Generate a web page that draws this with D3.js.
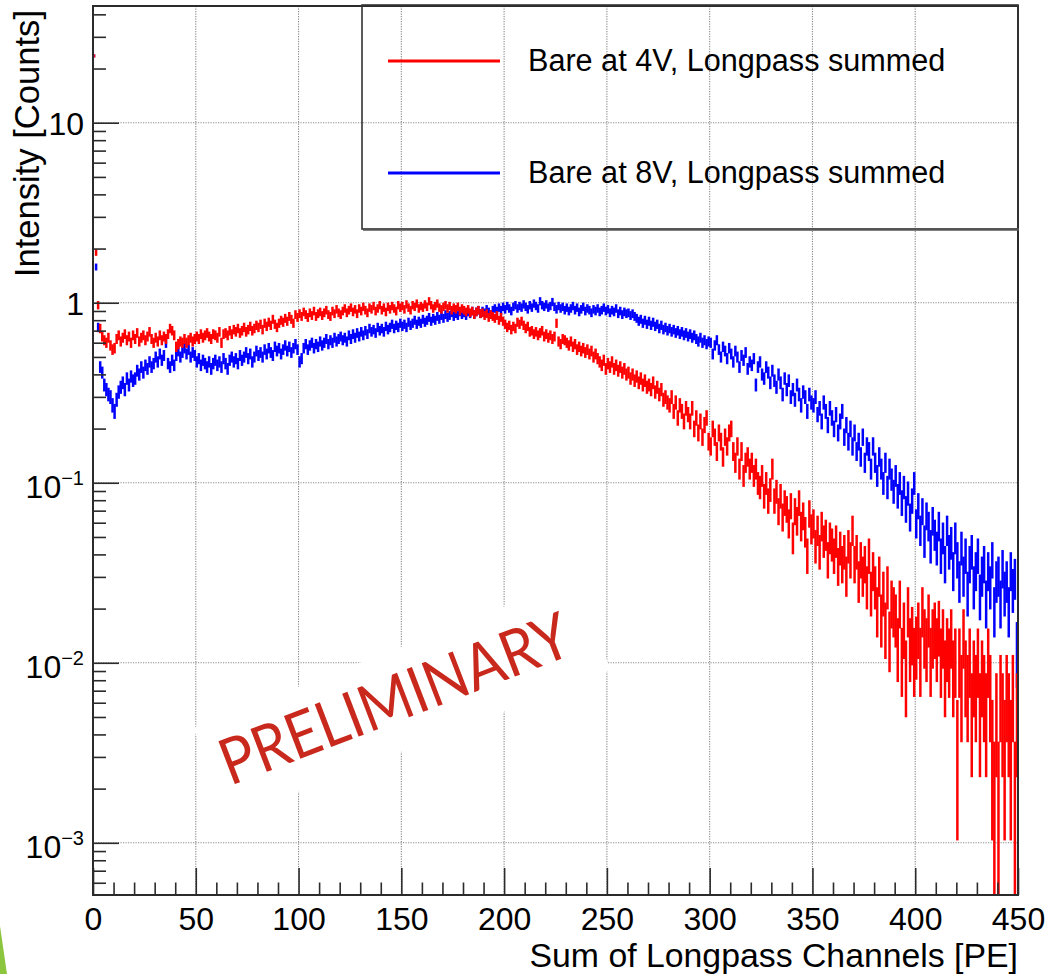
<!DOCTYPE html>
<html><head><meta charset="utf-8">
<script src="https://cdn.jsdelivr.net/npm/d3@7"></script>
<style>
body{margin:0;background:#fff;}
svg{display:block;font-family:"Liberation Sans",Arial,Helvetica,sans-serif;}
</style>
</head><body>
<svg id="chart" width="1051" height="974"></svg>
<script>
// ---------------- data ----------------
const xTickValues = [0, 50, 100, 150, 200, 250, 300, 350, 400, 450];
const yDecades = [1e-3, 1e-2, 1e-1, 1, 10];
const yDecadeExponents = [-3, -2, -1, 0, 1];
const seriesNames = ["Bare at 4V, Longpass summed", "Bare at 8V, Longpass summed"];
const seriesColors = ["#ff0000", "#0000ff"];
const entriesPerUnit = 550; // Poisson scale for error bars
const binWidth = 1;         // PE per bin

// Bare at 4V (red), one value per 1-PE bin, bins 0..449
const red4V = [
23.5,1.9,0.97,0.72,0.65,0.62,0.6,0.64,0.58,0.55,
0.56,0.63,0.66,0.61,0.64,0.67,0.62,0.65,0.6,0.66,
0.63,0.68,0.61,0.64,0.66,0.62,0.65,0.69,0.63,0.6,
0.64,0.61,0.66,0.62,0.65,0.63,0.67,0.72,0.7,0.66,
0.57,0.59,0.61,0.6,0.63,0.6,0.62,0.64,0.61,0.63,
0.65,0.63,0.67,0.64,0.66,0.68,0.65,0.63,0.67,0.66,
0.64,0.69,0.6,0.67,0.68,0.66,0.7,0.67,0.71,0.69,
0.72,0.68,0.7,0.73,0.69,0.71,0.74,0.7,0.72,0.75,
0.73,0.76,0.71,0.77,0.74,0.78,0.75,0.81,0.76,0.73,
0.77,0.8,0.78,0.82,0.79,0.84,0.81,0.77,0.86,0.83,
0.87,0.84,0.89,0.86,0.83,0.88,0.85,0.9,0.84,0.87,
0.89,0.85,0.88,0.91,0.86,0.84,0.9,0.87,0.92,0.88,
0.86,0.9,0.93,0.88,0.91,0.94,0.89,0.92,0.87,0.93,
0.9,0.95,0.91,0.88,0.94,0.92,0.96,0.9,0.93,0.97,
0.91,0.94,0.89,0.95,0.92,0.96,0.93,0.9,0.97,0.94,
0.96,0.92,0.98,0.94,0.91,0.97,0.95,0.99,0.93,0.96,
0.94,0.98,0.95,1.02,0.97,0.93,0.96,0.99,0.94,0.92,
0.95,0.97,0.93,0.96,0.91,0.94,0.92,0.95,0.9,0.93,
0.91,0.89,0.92,0.88,0.9,0.86,0.89,0.91,0.87,0.88,
0.85,0.87,0.83,0.86,0.84,0.82,0.85,0.8,0.83,0.79,
0.76,0.73,0.75,0.71,0.74,0.72,0.78,0.76,0.79,0.75,
0.72,0.74,0.69,0.7,0.67,0.69,0.66,0.68,0.7,0.65,
0.67,0.64,0.66,0.63,0.65,0.77,0.61,0.59,0.63,0.62,
0.6,0.58,0.61,0.57,0.59,0.55,0.57,0.54,0.56,0.53,
0.55,0.52,0.54,0.5,0.52,0.49,0.47,0.45,0.48,0.43,
0.46,0.44,0.47,0.43,0.45,0.42,0.44,0.41,0.43,0.4,
0.41,0.38,0.4,0.37,0.39,0.36,0.38,0.35,0.37,0.34,
0.35,0.33,0.36,0.32,0.34,0.31,0.33,0.29,0.3,0.28,
0.27,0.3,0.25,0.28,0.23,0.27,0.25,0.22,0.26,0.24,
0.22,0.26,0.2,0.23,0.19,0.22,0.18,0.21,0.23,0.17,
0.16,0.2,0.18,0.15,0.19,0.17,0.14,0.18,0.16,0.19,
0.2,0.15,0.13,0.16,0.12,0.15,0.11,0.13,0.14,0.12,
0.13,0.11,0.12,0.1,0.095,0.11,0.085,0.1,0.08,0.092,
0.12,0.08,0.09,0.07,0.085,0.065,0.078,0.072,0.06,0.075,
0.05,0.07,0.062,0.078,0.058,0.066,0.054,0.04,0.068,0.056,
0.06,0.045,0.055,0.042,0.058,0.048,0.052,0.038,0.05,0.046,
0.04,0.048,0.035,0.044,0.036,0.042,0.031,0.045,0.038,0.055,
0.036,0.042,0.029,0.038,0.031,0.036,0.027,0.04,0.025,0.033,
0.027,0.02,0.031,0.018,0.025,0.016,0.027,0.014,0.022,0.02,
0.018,0.0127,0.022,0.011,0.016,0.0091,0.02,0.0127,0.015,0.011,
0.013,0.016,0.011,0.02,0.0145,0.0127,0.018,0.011,0.0145,0.016,
0.0127,0.0164,0.0109,0.0145,0.0091,0.0127,0.0109,0.0145,0.0091,0.0109,
0.0036,0.0109,0.0073,0.0145,0.0091,0.0073,0.0109,0.0055,0.0091,0.0073,
0.0109,0.0055,0.0091,0.0073,0.0055,0.0109,0.0073,0.0036,0.0018,0.0055,
0.0018,0.0073,0.0055,0.0036,0.0073,0.0055,0.0036,0.0073,0.0018,0.0055
];

// Bare at 8V (blue), bins 0..449
const blue8V = [
23.5,1.58,0.73,0.44,0.41,0.35,0.33,0.31,0.3,0.27,
0.25,0.29,0.32,0.34,0.36,0.33,0.38,0.35,0.39,0.37,
0.38,0.42,0.4,0.44,0.41,0.45,0.43,0.47,0.44,0.46,
0.5,0.47,0.52,0.48,0.51,0.6,0.46,0.44,0.48,0.45,
0.51,0.54,0.5,0.53,0.56,0.52,0.55,0.5,0.53,0.51,
0.47,0.49,0.45,0.48,0.46,0.44,0.47,0.43,0.46,0.48,
0.45,0.47,0.44,0.49,0.46,0.43,0.48,0.5,0.47,0.49,
0.46,0.51,0.48,0.5,0.53,0.49,0.52,0.47,0.5,0.54,
0.51,0.53,0.5,0.55,0.52,0.56,0.53,0.51,0.57,0.54,
0.56,0.52,0.55,0.58,0.54,0.57,0.53,0.56,0.59,0.55,
0.47,0.49,0.56,0.59,0.55,0.58,0.6,0.56,0.59,0.57,
0.61,0.58,0.6,0.63,0.59,0.62,0.6,0.64,0.61,0.63,
0.65,0.62,0.64,0.61,0.66,0.63,0.67,0.64,0.68,0.65,
0.69,0.66,0.7,0.67,0.72,0.69,0.71,0.68,0.73,0.7,
0.72,0.69,0.74,0.71,0.73,0.76,0.72,0.75,0.73,0.77,
0.74,0.76,0.73,0.78,0.75,0.77,0.8,0.76,0.79,0.77,
0.81,0.78,0.8,0.83,0.79,0.82,0.8,0.84,0.81,0.85,
0.82,0.86,0.83,0.85,0.88,0.84,0.87,0.85,0.89,0.86,
0.88,0.85,0.89,0.87,0.9,0.86,0.89,0.91,0.87,0.9,
0.88,0.92,0.89,0.86,0.91,0.93,0.9,0.94,0.91,0.95,
0.92,0.96,0.93,0.9,0.95,0.97,0.93,0.96,0.94,0.98,
0.95,0.92,0.97,0.94,0.99,0.96,0.93,1.02,0.97,0.95,
0.98,0.94,0.96,1.01,0.95,0.92,0.96,0.93,0.95,0.91,
0.94,0.9,0.93,0.96,0.91,0.94,0.89,0.92,0.95,0.9,
0.93,0.91,0.88,0.92,0.9,0.93,0.89,0.91,0.94,0.9,
0.92,0.88,0.91,0.89,0.93,0.87,0.9,0.86,0.89,0.87,
0.88,0.85,0.87,0.84,0.82,0.79,0.81,0.77,0.8,0.76,
0.79,0.75,0.78,0.74,0.76,0.72,0.75,0.71,0.73,0.7,
0.72,0.69,0.71,0.68,0.7,0.67,0.69,0.66,0.68,0.65,
0.67,0.64,0.66,0.63,0.61,0.64,0.6,0.62,0.59,0.61,
0.6,0.52,0.58,0.62,0.55,0.5,0.57,0.54,0.49,0.56,
0.52,0.47,0.54,0.5,0.44,0.51,0.48,0.53,0.43,0.47,
0.45,0.49,0.35,0.44,0.47,0.4,0.38,0.44,0.41,0.36,
0.42,0.37,0.34,0.4,0.36,0.31,0.38,0.33,0.37,0.3,
0.33,0.29,0.35,0.31,0.27,0.32,0.3,0.25,0.31,0.28,
0.27,0.3,0.24,0.26,0.22,0.28,0.25,0.21,0.26,0.23,
0.2,0.24,0.19,0.22,0.25,0.18,0.21,0.17,0.2,0.16,
0.19,0.15,0.17,0.14,0.18,0.13,0.16,0.15,0.12,0.16,
0.13,0.11,0.14,0.12,0.1,0.13,0.095,0.12,0.105,0.09,
0.11,0.085,0.1,0.078,0.095,0.072,0.088,0.065,0.08,0.1,
0.06,0.075,0.055,0.07,0.048,0.066,0.058,0.045,0.062,0.052,
0.044,0.058,0.04,0.05,0.036,0.055,0.042,0.047,0.033,0.05,
0.038,0.029,0.044,0.031,0.04,0.025,0.036,0.042,0.027,0.033,
0.04,0.024,0.031,0.036,0.022,0.033,0.027,0.038,0.02,0.029,
0.031,0.022,0.034,0.025,0.029,0.02,0.033,0.026,0.03,0.012
];

// ---------------- layout ----------------
const svg = d3.select("#chart");
const plot = {left: 93, right: 1018, top: 6, bottom: 895};
const x = d3.scaleLinear().domain([0, 450]).range([plot.left, plot.right]);
const y = d3.scaleLog().domain([5.13e-4, 44.5]).range([plot.bottom, plot.top]);
const ink = "#2b2b2b";

svg.append("rect").attr("width", 1051).attr("height", 974).attr("fill", "#fff");

svg.append("clipPath").attr("id", "plotClip").append("rect")
  .attr("x", plot.left).attr("y", plot.top)
  .attr("width", plot.right - plot.left).attr("height", plot.bottom - plot.top);

// grid
const grid = svg.append("g").attr("stroke", "#8a8a8a").attr("stroke-width", 1.1)
  .attr("stroke-dasharray", "1.2,1.3");
grid.selectAll("line.gx").data(xTickValues.filter(d => d > 0 && d < 450)).join("line")
  .attr("x1", d => x(d)).attr("x2", d => x(d)).attr("y1", plot.top).attr("y2", plot.bottom);
grid.selectAll("line.gy").data(yDecades).join("line")
  .attr("y1", d => y(d)).attr("y2", d => y(d)).attr("x1", plot.left).attr("x2", plot.right);

// white box behind the PRELIMINARY stamp
svg.append("rect")
  .attr("x", -205).attr("y", -49).attr("width", 410).attr("height", 98)
  .attr("fill", "#fff")
  .attr("transform", "translate(402,699) rotate(-21.3)");

// histograms with error bars
function drawSeries(vals, color) {
  const g = svg.append("g").attr("clip-path", "url(#plotClip)")
    .attr("stroke", color).attr("stroke-width", 2.5).attr("fill", "none");
  const pts = vals.map((v, i) => ({i, v})).filter(d => d.v > 0);
  const err = d => Math.sqrt(d.v / entriesPerUnit);
  const yy = v => v <= y.domain()[0] ? plot.bottom + 5 : y(v);
  g.selectAll("line.e").data(pts).join("line")
    .attr("x1", d => x(d.i * binWidth + binWidth / 2)).attr("x2", d => x(d.i * binWidth + binWidth / 2))
    .attr("y1", d => yy(d.v + err(d)) - 0.8).attr("y2", d => yy(d.v - err(d)) + 0.8);
}
drawSeries(blue8V, seriesColors[1]);
drawSeries(red4V, seriesColors[0]);

// axes
const xMinor = d3.range(0, 451, 10).filter(d => d % 50 !== 0);
const xAxis = svg.append("g").attr("transform", `translate(0,${plot.bottom})`)
  .call(d3.axisBottom(x).tickValues(xTickValues).tickSizeInner(-27).tickSizeOuter(0).tickPadding(11.8).tickFormat(d3.format("d")));
const xAxisMinor = svg.append("g").attr("transform", `translate(0,${plot.bottom})`)
  .call(d3.axisBottom(x).tickValues(xMinor).tickSizeInner(-12.5).tickSizeOuter(0).tickFormat(""));

const yMinor = [];
[-4, -3, -2, -1, 0, 1].forEach(e => { for (let k = 2; k <= 9; k++) { const v = k * Math.pow(10, e); if (v > y.domain()[0] && v < y.domain()[1]) yMinor.push(v); } });
const yAxis = svg.append("g").attr("transform", `translate(${plot.left},0)`)
  .call(d3.axisLeft(y).tickValues(yDecades).tickSizeInner(-26).tickSizeOuter(0).tickPadding(9).tickFormat(""));
const yAxisMinor = svg.append("g").attr("transform", `translate(${plot.left},0)`)
  .call(d3.axisLeft(y).tickValues(yMinor).tickSizeInner(-13).tickSizeOuter(0).tickFormat(""));

[xAxis, xAxisMinor, yAxis, yAxisMinor].forEach(a => {
  a.select(".domain").remove();
  a.selectAll(".tick line").attr("stroke", ink).attr("stroke-width", 1.6);
});
xAxis.selectAll(".tick text").attr("fill", "#000").attr("font-size", 32)
  .attr("font-family", "'Liberation Sans', Arial, sans-serif");

yAxis.selectAll(".tick text").each(function(d, i) {
  const t = d3.select(this).attr("fill", "#000").attr("font-size", 32)
    .attr("font-family", "'Liberation Sans', Arial, sans-serif").attr("dy", null);
  const ex = yDecadeExponents[i];
  if (ex >= 0) {
    t.attr("y", 12).text(d3.format("d")(d));
  } else {
    t.attr("y", 15).text(null);
    t.append("tspan").text("10");
    t.append("tspan").attr("font-size", 20).attr("dy", -13).text("\u2212" + Math.abs(ex));
  }
});

// frame
svg.append("rect").attr("x", plot.left).attr("y", plot.top)
  .attr("width", plot.right - plot.left).attr("height", plot.bottom - plot.top)
  .attr("fill", "none").attr("stroke", ink).attr("stroke-width", 2);

// axis titles
svg.append("text").attr("x", plot.right).attr("y", 966.5).attr("text-anchor", "end")
  .attr("font-size", 33.8).attr("fill", "#000").text("Sum of Longpass Channels [PE]");
svg.append("text").attr("transform", "translate(39,10) rotate(-90)").attr("text-anchor", "end")
  .attr("font-size", 34.6).attr("fill", "#000").text("Intensity [Counts]");

// legend
const legend = svg.append("g");
legend.append("rect").attr("x", 362).attr("y", 5).attr("width", plot.right - 362).attr("height", 224)
  .attr("fill", "none").attr("stroke", "#333").attr("stroke-width", 1.6);
legend.append("line").attr("x1", 363).attr("x2", plot.right + 1).attr("y1", 229.5).attr("y2", 229.5)
  .attr("stroke", "#555").attr("stroke-width", 2.4);
const legendRows = [61, 173];
seriesNames.forEach((name, i) => {
  legend.append("line").attr("x1", 388).attr("x2", 500).attr("y1", legendRows[i]).attr("y2", legendRows[i])
    .attr("stroke", seriesColors[i]).attr("stroke-width", 3);
  legend.append("text").attr("x", 528).attr("y", legendRows[i] + 10).attr("font-size", 30.6)
    .attr("fill", "#000").text(name);
});

// PRELIMINARY stamp
svg.append("text").attr("transform", "translate(230,786) rotate(-21)")
  .attr("font-family", "Lato, 'Open Sans', sans-serif").attr("font-size", 64)
  .attr("fill", "#c9291d").attr("textLength", 370).attr("lengthAdjust", "spacingAndGlyphs")
  .text("PRELIMINARY");

// slide decoration (green wedge, bottom-left)
svg.append("polygon").attr("points", "0,926 7,974 0,974").attr("fill", "#8cc63f");
</script>
</body></html>
